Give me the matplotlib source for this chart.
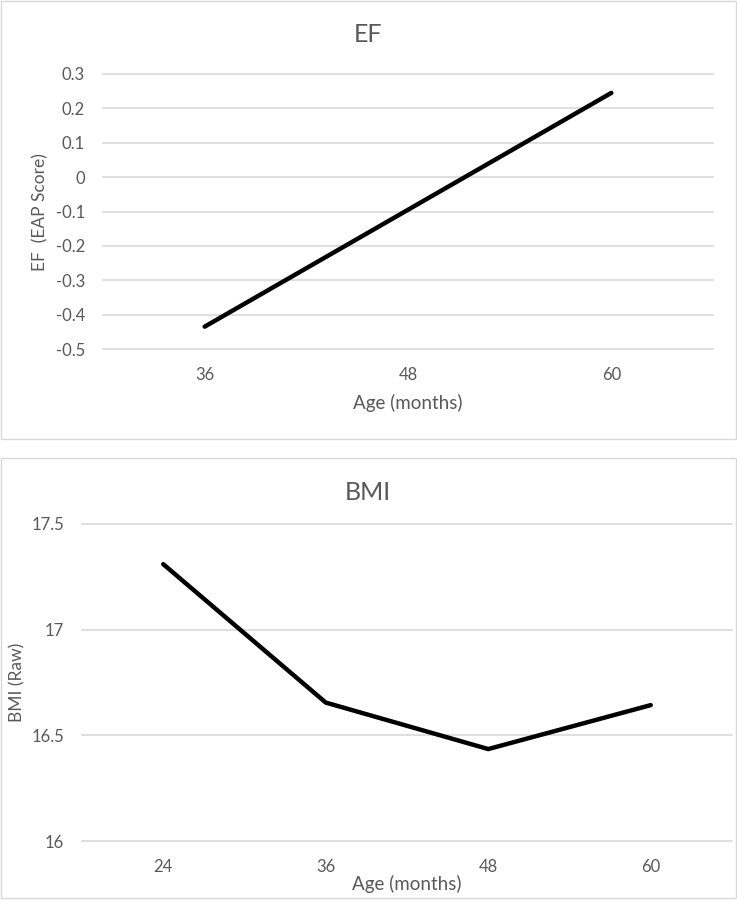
import matplotlib
matplotlib.use("Agg")
import matplotlib.pyplot as plt
from matplotlib.patches import Rectangle

plt.rcParams['font.family'] = ['Lato', 'DejaVu Sans']

# Data
ef_ages = ["36", "48", "60"]
ef_values = [-0.435, -0.095, 0.245]
ef_yticks = [-0.5, -0.4, -0.3, -0.2, -0.1, 0.0, 0.1, 0.2, 0.3]
ef_yticklabels = ["-0.5", "-0.4", "-0.3", "-0.2", "-0.1", "0", "0.1", "0.2", "0.3"]

bmi_ages = ["24", "36", "48", "60"]
bmi_values = [17.31, 16.655, 16.435, 16.643]
bmi_yticks = [16.0, 16.5, 17.0, 17.5]
bmi_yticklabels = ["16", "16.5", "17", "17.5"]

W, H = 737, 900
fig = plt.figure(figsize=(W / 100, H / 100), dpi=100)
TXT = "#595959"
GRID = "#D9D9D9"

def px_axes(l, t, r, b):
    return fig.add_axes([l / W, 1 - b / H, (r - l) / W, (b - t) / H])

# panel borders
fig.patches.append(Rectangle((1 / W, 1 - 439 / H), 735 / W, 438 / H, transform=fig.transFigure,
                             fill=False, edgecolor=GRID, lw=1))
fig.patches.append(Rectangle((1 / W, 1 - 898 / H), 735 / W, 440 / H, transform=fig.transFigure,
                             fill=False, edgecolor=GRID, lw=1))

def style(ax, yticks, ylabels, xlabels, ylim, ypad):
    for s in ax.spines.values():
        s.set_visible(False)
    ax.set_ylim(*ylim)
    ax.set_xlim(-0.5, len(xlabels) - 0.5)
    ax.set_yticks(yticks)
    ax.set_yticklabels(ylabels)
    ax.set_xticks(range(len(xlabels)))
    ax.set_xticklabels(xlabels)
    for y in yticks:
        ax.axhline(y, color=GRID, lw=1.2, zorder=1, clip_on=False)
    ax.tick_params(axis='both', length=0, labelsize=12, labelcolor=TXT)
    ax.tick_params(axis='y', pad=ypad)
    ax.tick_params(axis='x', pad=13)
    ax.set_facecolor('none')

# EF panel
ax1 = px_axes(103, 74, 713, 349)
ax1.plot(range(len(ef_ages)), ef_values, color='black', lw=3.2, solid_capstyle='round', zorder=3)
style(ax1, ef_yticks, ef_yticklabels, ef_ages, (-0.5, 0.3), 13)
fig.text(368 / W, 1 - 35 / H, "EF", ha='center', va='center', fontsize=18, color=TXT)
fig.text(408 / W, 1 - 403 / H, "Age (months)", ha='center', va='center', fontsize=13.5, color=TXT)
fig.text(40 / W, 1 - 212 / H, "EF  (EAP Score)", ha='center', va='center', rotation=90, fontsize=12.5, color=TXT)

# BMI panel
ax2 = px_axes(82, 524, 732, 841)
ax2.plot(range(len(bmi_ages)), bmi_values, color='black', lw=3.2, solid_capstyle='round',
         solid_joinstyle='miter', zorder=3)
style(ax2, bmi_yticks, bmi_yticklabels, bmi_ages, (16.0, 17.5), 13)
fig.text(368 / W, 1 - 493 / H, "BMI", ha='center', va='center', fontsize=18, color=TXT)
fig.text(407 / W, 1 - 884 / H, "Age (months)", ha='center', va='center', fontsize=13.5, color=TXT)
fig.text(17 / W, 1 - 682 / H, "BMI (Raw)", ha='center', va='center', rotation=90, fontsize=12.5, color=TXT)

fig.savefig("out.png", dpi=100, facecolor='white')
